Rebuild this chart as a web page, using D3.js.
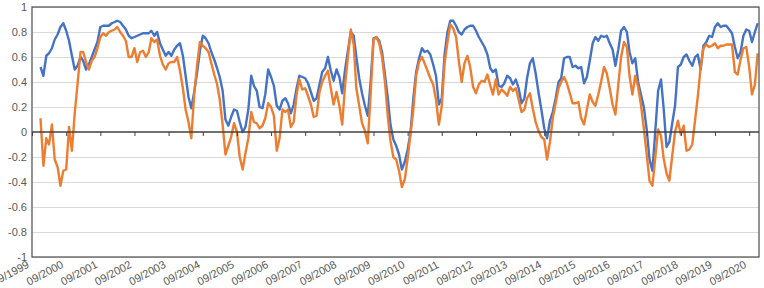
<!DOCTYPE html>
<html><head><meta charset="utf-8">
<script src="https://cdn.jsdelivr.net/npm/d3@7"></script>
<style>
html,body{margin:0;padding:0;background:#fff;}
svg text{font-family:"Liberation Sans",Arial,sans-serif;}
</style></head>
<body><svg id="chart" width="764" height="288"></svg>
<script>
// Monthly observations from 12/1999 to 12/2020
const startMonth = "1999-12";
const seriesBlue = [
0.52,0.45,0.61,0.63,0.67,0.74,0.78,0.84,0.87,0.81,
0.73,0.61,0.50,0.53,0.60,0.57,0.50,0.54,0.60,0.66,
0.72,0.84,0.85,0.85,0.85,0.87,0.88,0.89,0.88,0.85,
0.82,0.77,0.75,0.76,0.77,0.78,0.79,0.79,0.79,0.81,
0.77,
0.80,0.71,0.66,0.61,0.64,0.61,0.66,0.69,0.71,0.61,
0.45,0.28,0.19,0.32,0.47,0.65,0.77,0.75,0.71,0.64,
0.58,0.51,0.44,0.33,0.10,0.05,0.12,0.18,0.17,0.08,
0.00,0.04,0.18,0.45,0.37,0.33,0.20,0.19,0.30,0.50,
0.44,0.37,
0.21,0.18,0.25,0.27,0.23,0.15,0.22,0.35,0.45,0.44,
0.43,0.39,0.32,0.25,0.27,0.38,0.48,0.51,0.60,0.49,
0.41,0.50,0.44,0.31,0.50,0.65,0.80,0.77,0.60,0.43,
0.31,0.21,0.13,0.40,0.75,0.76,0.73,0.64,0.46,0.27,
0.06,-0.06,
-0.11,-0.18,-0.30,-0.24,-0.14,-0.01,0.27,0.48,0.59,0.67,
0.64,0.65,0.62,0.54,0.45,0.22,0.27,0.62,0.80,0.89,
0.89,0.85,0.80,0.78,0.82,0.84,0.85,0.85,0.81,0.76,
0.72,0.68,0.62,0.51,0.48,0.50,0.37,0.36,0.39,0.45,
0.43,0.38,
0.42,0.35,0.23,0.27,0.43,0.55,0.59,0.47,0.32,0.18,
0.03,-0.05,0.09,0.16,0.27,0.40,0.43,0.59,0.60,0.60,
0.52,0.53,0.51,0.52,0.39,0.44,0.57,0.71,0.76,0.73,
0.77,0.76,0.77,0.71,0.66,0.53,0.66,0.81,0.84,0.80,
0.64,0.55,
0.59,0.40,0.30,0.20,0.02,-0.22,-0.31,0.00,0.33,0.42,
0.19,-0.12,-0.08,0.07,0.21,0.52,0.54,0.60,0.62,0.57,
0.53,0.60,0.62,0.50,0.69,0.72,0.77,0.76,0.84,0.87,
0.84,0.85,0.85,0.82,0.79,0.68,0.59,0.64,0.77,0.82,
0.81,0.72,0.80,0.87
];
const seriesOrange = [
0.11,-0.27,-0.05,-0.10,0.06,-0.22,-0.28,-0.43,-0.31,-0.30,
0.04,-0.15,0.15,0.39,0.64,0.64,0.56,0.50,0.57,0.60,
0.67,0.76,0.79,0.77,0.80,0.81,0.82,0.84,0.80,0.77,
0.73,0.60,0.60,0.67,0.56,0.64,0.65,0.60,0.64,0.75,
0.72,
0.74,0.61,0.54,0.50,0.55,0.56,0.56,0.60,0.49,0.35,
0.18,0.08,-0.05,0.30,0.53,0.72,0.69,0.67,0.64,0.55,
0.46,0.38,0.26,0.06,-0.18,-0.11,-0.04,0.07,0.00,-0.20,
-0.30,-0.17,-0.05,0.16,0.08,0.07,0.03,0.05,0.11,0.23,
0.20,0.13,
-0.15,-0.05,0.18,0.16,0.18,0.04,0.08,0.30,0.42,0.34,
0.35,0.29,0.22,0.12,0.13,0.32,0.40,0.45,0.49,0.35,
0.22,0.32,0.21,0.06,0.38,0.60,0.82,0.70,0.35,0.21,
0.07,0.01,-0.09,0.30,0.74,0.76,0.71,0.60,0.40,0.12,
-0.07,-0.20,
-0.22,-0.31,-0.44,-0.38,-0.21,-0.02,0.18,0.45,0.56,0.60,
0.55,0.49,0.43,0.38,0.26,0.06,0.21,0.55,0.72,0.86,
0.83,0.76,0.57,0.40,0.55,0.61,0.52,0.36,0.31,0.38,
0.41,0.40,0.46,0.37,0.30,0.42,0.30,0.34,0.32,0.29,
0.36,0.33,
0.35,0.26,0.16,0.18,0.27,0.31,0.19,0.08,0.01,-0.04,
-0.06,-0.22,-0.08,0.11,0.23,0.35,0.40,0.44,0.39,0.31,
0.23,0.23,0.24,0.11,0.06,0.18,0.30,0.24,0.21,0.30,
0.40,0.52,0.47,0.35,0.22,0.14,0.38,0.60,0.72,0.68,
0.45,0.30,
0.45,0.36,0.22,0.03,-0.18,-0.39,-0.43,-0.21,0.02,-0.03,
-0.21,-0.33,-0.39,-0.19,0.00,0.09,-0.02,0.05,-0.15,-0.14,
-0.10,0.10,0.28,0.52,0.67,0.70,0.68,0.69,0.71,0.67,
0.69,0.69,0.70,0.70,0.70,0.48,0.46,0.58,0.67,0.68,
0.52,0.30,0.38,0.63
];
const tickYears = d3.range(1999, 2021);
const yTicks = [1, 0.8, 0.6, 0.4, 0.2, 0, -0.2, -0.4, -0.6, -0.8, -1];

const parseMonth = d3.timeParse("%Y-%m");
const t0 = parseMonth(startMonth);
const dates = seriesBlue.map((_, i) => d3.timeMonth.offset(t0, i));
const tickDates = tickYears.map(y => new Date(y, 8, 1));

const svg = d3.select("#chart");
const L = 32, R = 759, T = 7, B = 257;
const x = d3.scaleTime().domain([new Date(1999, 8, 1), new Date(2020, 11, 15)]).range([L, R]);
const y = d3.scaleLinear().domain([-1, 1]).range([B, T]);

// gridlines
svg.append("g").selectAll("line").data(yTicks.filter(v => v !== 0)).join("line")
  .attr("x1", L).attr("x2", R)
  .attr("y1", d => Math.round(y(d)) + 0.5).attr("y2", d => Math.round(y(d)) + 0.5)
  .attr("stroke", "#d9d9d9").attr("stroke-width", 1);

// y labels
svg.append("g").selectAll("text").data(yTicks).join("text")
  .attr("x", 27).attr("y", d => y(d)).attr("dy", "0.35em")
  .attr("text-anchor", "end").attr("font-size", 11).attr("fill", "#595959")
  .text(d => String(d));

// lines
const line = d3.line().x((d, i) => x(dates[i])).y(d => y(d)).curve(d3.curveLinear);
svg.append("path").datum(seriesBlue).attr("d", line)
  .attr("fill", "none").attr("stroke", "#4472c4").attr("stroke-width", 2.4).attr("stroke-linejoin", "round");
svg.append("path").datum(seriesOrange).attr("d", line)
  .attr("fill", "none").attr("stroke", "#ed7d31").attr("stroke-width", 2.4).attr("stroke-linejoin", "round");

// plot border
svg.append("rect").attr("x", L).attr("y", T).attr("width", R - L).attr("height", B - T)
  .attr("fill", "none").attr("stroke", "#595959").attr("stroke-width", 1.3);

// zero axis with ticks
const xAxis = d3.axisBottom(x).tickValues(tickDates).tickSize(4).tickFormat("");
const ax = svg.append("g").attr("transform", `translate(0,${y(0)})`).call(xAxis);
ax.select(".domain").attr("stroke", "#404040").attr("stroke-width", 1.3).attr("d", `M${L},0H${R}`);
ax.selectAll(".tick line").attr("stroke", "#404040");

// x labels
const fmt = d3.timeFormat("%m/%Y");
svg.append("g").selectAll("text").data(tickDates).join("text")
  .attr("transform", d => `translate(${x(d) - 2},${267}) rotate(-28)`)
  .attr("text-anchor", "end").attr("font-size", 11).attr("fill", "#595959")
  .text(d => fmt(d));
</script></body></html>
